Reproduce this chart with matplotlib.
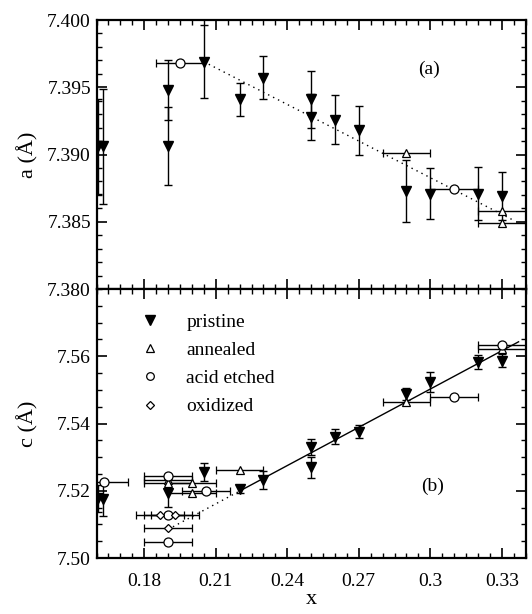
import matplotlib
matplotlib.use("Agg")
import matplotlib.pyplot as plt
from matplotlib.ticker import MultipleLocator, FixedLocator, FixedFormatter
from matplotlib.lines import Line2D

plt.rcParams['font.family'] = ['Liberation Serif', 'DejaVu Serif']

# ---------------- panel (a): lattice parameter a ----------------
a_pri_x = [0.1605, 0.1628, 0.19, 0.19, 0.205, 0.22, 0.23, 0.25, 0.25, 0.26, 0.27, 0.29, 0.30, 0.32, 0.33]
a_pri_y = [7.3906, 7.3906, 7.3948, 7.3906, 7.3969, 7.3941, 7.3957, 7.3941, 7.3928, 7.3926, 7.3918, 7.3873, 7.3871, 7.3871, 7.3869]
a_pri_err = [0.0035, 0.0043, 0.0022, 0.0029, 0.0027, 0.0012, 0.0016, 0.0021, 0.0017, 0.0018, 0.0018, 0.0023, 0.0019, 0.0020, 0.0018]

a_ann_x = [0.29, 0.33, 0.33]
a_ann_y = [7.3901, 7.3858, 7.3849]
a_ann_xerr = [0.01, 0.01, 0.01]

a_acid_x = [0.195, 0.31]
a_acid_y = [7.3968, 7.3874]
a_acid_xerr = [0.01, 0.01]

a_fit_x = [0.205, 0.335]
a_fit_y = [7.3969, 7.3851]

# ---------------- panel (b): lattice parameter c ----------------
c_pri_x = [0.1605, 0.1628, 0.19, 0.205, 0.22, 0.23, 0.25, 0.25, 0.26, 0.27, 0.29, 0.30, 0.32, 0.33]
c_pri_y = [7.5178, 7.5175, 7.5194, 7.5255, 7.5205, 7.5232, 7.5331, 7.5270, 7.5361, 7.5376, 7.5488, 7.5523, 7.5584, 7.5587]
c_pri_err = [0.0040, 0.0050, 0.0042, 0.0027, 0.0012, 0.0027, 0.0024, 0.0031, 0.0022, 0.0019, 0.0019, 0.0030, 0.0021, 0.0020]

c_ann_x = [0.19, 0.19, 0.20, 0.20, 0.22, 0.29, 0.33]
c_ann_y = [7.5232, 7.5222, 7.5224, 7.5194, 7.5262, 7.5465, 7.5621]
c_ann_xerr = [0.01, 0.01, 0.01, 0.01, 0.01, 0.01, 0.01]

c_acid_x = [0.163, 0.19, 0.206, 0.19, 0.19, 0.31, 0.33]
c_acid_y = [7.5225, 7.5245, 7.5200, 7.5128, 7.5048, 7.5480, 7.5634]
c_acid_xerr = [0.01, 0.01, 0.01, 0.01, 0.01, 0.01, 0.01]

c_oxi_x = [0.1865, 0.193, 0.19]
c_oxi_y = [7.5128, 7.5128, 7.5088]
c_oxi_xerr = [0.01, 0.01, 0.01]

c_fit_dot_x = [0.19, 0.22]
c_fit_dot_y = [7.5085, 7.5199]
c_fit_x = [0.22, 0.337]
c_fit_y = [7.5199, 7.5643]

x_major = [0.18, 0.21, 0.24, 0.27, 0.30, 0.33]
x_major_labels = ["0.18", "0.21", "0.24", "0.27", "0.3", "0.33"]
a_major = [7.380, 7.385, 7.390, 7.395, 7.400]
a_major_labels = ["7.380", "7.385", "7.390", "7.395", "7.400"]
c_major = [7.50, 7.52, 7.54, 7.56]
c_major_labels = ["7.50", "7.52", "7.54", "7.56"]
legend_labels = ['pristine', 'annealed', 'acid etched', 'oxidized']

FS = 14

fig = plt.figure(figsize=(5.32, 6.14), dpi=100)
ax1 = fig.add_axes([0.1814, 0.5293, 0.8068, 0.4381])
ax2 = fig.add_axes([0.1814, 0.0912, 0.8068, 0.4381])

eb = dict(ecolor='black', elinewidth=1.0, capsize=3.2, capthick=1.0, linestyle='none')

# panel a
ax1.plot(a_fit_x, a_fit_y, linestyle=(0, (1, 3)), color='black', lw=1.0, zorder=1)
ax1.errorbar(a_pri_x, a_pri_y, yerr=a_pri_err, marker='v', ms=7, mfc='black', mec='black', **eb, zorder=3)
ax1.errorbar(a_ann_x, a_ann_y, xerr=a_ann_xerr, marker='^', ms=6, mfc='white', mec='black', mew=0.9, **eb, zorder=4)
ax1.errorbar(a_acid_x, a_acid_y, xerr=a_acid_xerr, marker='o', ms=6.5, mfc='white', mec='black', mew=0.9, **eb, zorder=4)

# panel b
ax2.plot(c_fit_dot_x, c_fit_dot_y, linestyle=(0, (1, 3)), color='black', lw=1.0, zorder=1)
ax2.plot(c_fit_x, c_fit_y, linestyle='-', color='black', lw=1.0, zorder=1)
ax2.errorbar(c_pri_x, c_pri_y, yerr=c_pri_err, marker='v', ms=7, mfc='black', mec='black', **eb, zorder=3)
ax2.errorbar(c_ann_x, c_ann_y, xerr=c_ann_xerr, marker='^', ms=6, mfc='white', mec='black', mew=0.9, **eb, zorder=4)
ax2.errorbar(c_acid_x, c_acid_y, xerr=c_acid_xerr, marker='o', ms=6.5, mfc='white', mec='black', mew=0.9, **eb, zorder=4)
ax2.errorbar(c_oxi_x, c_oxi_y, xerr=c_oxi_xerr, marker='D', ms=4, mfc='white', mec='black', mew=0.9, **eb, zorder=4)

handles = [
    Line2D([], [], marker='v', ms=7, mfc='black', mec='black', ls='none'),
    Line2D([], [], marker='^', ms=5.5, mfc='white', mec='black', mew=0.9, ls='none'),
    Line2D([], [], marker='o', ms=5.5, mfc='white', mec='black', mew=0.9, ls='none'),
    Line2D([], [], marker='D', ms=4, mfc='white', mec='black', mew=0.9, ls='none'),
]
ax2.legend(handles, legend_labels, loc='upper left',
           bbox_to_anchor=(0.085, 0.94), frameon=False, fontsize=FS, handlelength=1.0,
           handletextpad=1.35, labelspacing=0.55, borderaxespad=0)

for ax in (ax1, ax2):
    ax.set_xlim(0.16, 0.34)
    ax.xaxis.set_major_locator(FixedLocator(x_major))
    ax.xaxis.set_minor_locator(MultipleLocator(0.005))
    ax.tick_params(which='both', direction='in', top=True, right=True, labelsize=FS)
    ax.tick_params(which='major', length=7, width=1.2)
    ax.tick_params(which='minor', length=3.5, width=1.0)
    for s in ax.spines.values():
        s.set_linewidth(1.6)

ax1.set_ylim(7.380, 7.400)
ax1.yaxis.set_major_locator(FixedLocator(a_major))
ax1.yaxis.set_major_formatter(FixedFormatter(a_major_labels))
ax1.yaxis.set_minor_locator(MultipleLocator(0.001))
ax1.tick_params(axis='x', labelbottom=False)
ax1.tick_params(axis='y', pad=4)

ax2.set_ylim(7.50, 7.58)
ax2.yaxis.set_major_locator(FixedLocator(c_major))
ax2.yaxis.set_major_formatter(FixedFormatter(c_major_labels))
ax2.yaxis.set_minor_locator(MultipleLocator(0.005))
ax2.xaxis.set_major_formatter(FixedFormatter(x_major_labels))
ax2.tick_params(axis='y', pad=4)
ax2.tick_params(axis='x', pad=11)

ax1.set_ylabel('a (Å)', fontsize=16)
ax2.set_ylabel('c (Å)', fontsize=16)
ax2.set_xlabel('x', fontsize=16, labelpad=0)
ax1.yaxis.set_label_coords(-0.135, 0.5)
ax2.yaxis.set_label_coords(-0.135, 0.5)

ax1.text(0.775, 0.815, '(a)', transform=ax1.transAxes, fontsize=FS, ha='center', va='center')
ax2.text(0.782, 0.265, '(b)', transform=ax2.transAxes, fontsize=FS, ha='center', va='center')

fig.savefig('out.png', dpi=100)
